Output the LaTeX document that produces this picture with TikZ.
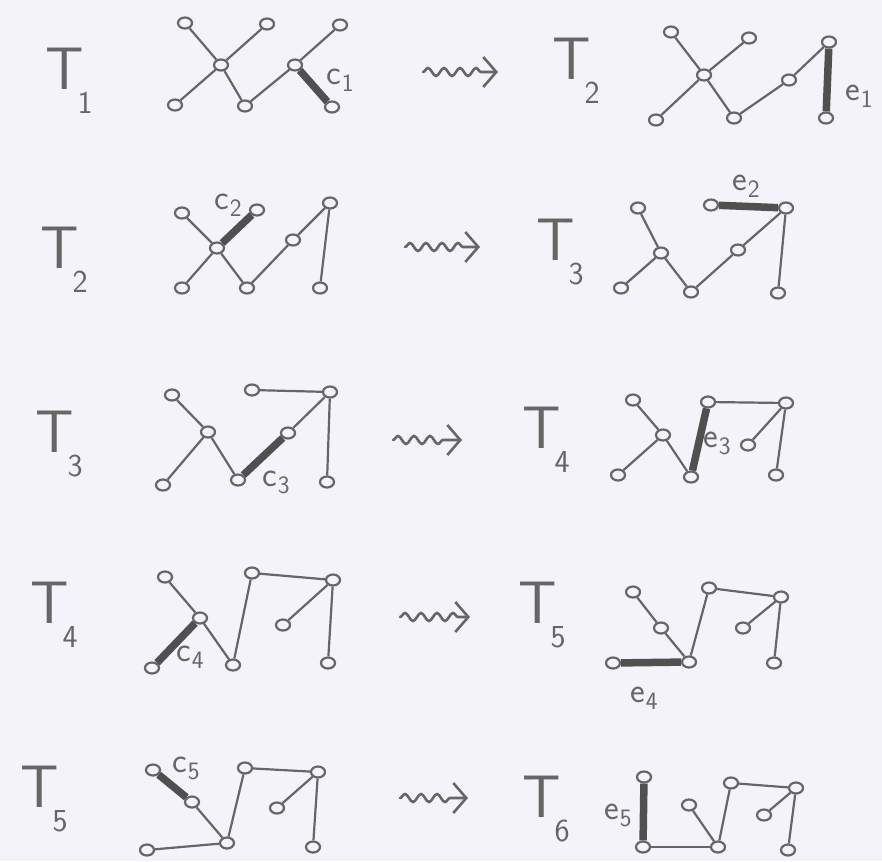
\documentclass[tikz,border=0pt]{standalone}
\usepackage{fontspec}
\usetikzlibrary{shapes.geometric,decorations.pathmorphing,arrows.meta}
\definecolor{paper}{HTML}{F3F3F9}
\definecolor{pencil}{HTML}{666666}
\definecolor{heavy}{HTML}{505050}
\newcommand\Tlab[1]{T\kern-6pt\raisebox{-24pt}{\fontsize{32}{32}\selectfont #1}}
\newcommand\elab[2]{#1\kern1pt\raisebox{-7pt}{\fontsize{25}{25}\selectfont #2}}
\tikzset{
  v/.style={ellipse,draw=pencil,fill=paper,line width=2.2pt,minimum width=14pt,minimum height=11pt,inner sep=0pt},
  ed/.style={draw=pencil,line width=2.2pt},
  hv/.style={draw=heavy,line width=7.5pt},
  tlab/.style={text=pencil,font=\sffamily\fontsize{60}{60}\selectfont,inner sep=0pt,anchor=base west},
  lbl/.style={text=pencil,font=\sffamily\fontsize{35}{35}\selectfont,inner sep=0pt,anchor=west},
  sq/.style={draw=pencil,line width=2.6pt,line cap=round,decorate,
    decoration={snake,amplitude=4pt,segment length=16pt,post length=12pt},
    -{Straight Barb[length=13pt,width=30pt,line width=2.6pt]}}
}
\begin{document}
\begin{tikzpicture}[x=1pt,y=-1pt]
\fill[paper] (0,0) rectangle (882,861);
\useasboundingbox (0,0) rectangle (882,861);
% ---------- labels T
\node[tlab] (tL1) at (45,90) {\Tlab{1}};
\node[tlab] (tR1) at (552,80) {\Tlab{2}};
\node[tlab] (tL2) at (40,268) {\Tlab{2}};
\node[tlab] (tR2) at (536,260) {\Tlab{3}};
\node[tlab] (tL3) at (35,452) {\Tlab{3}};
\node[tlab] (tR3) at (522,448) {\Tlab{4}};
\node[tlab] (tL4) at (30,623) {\Tlab{4}};
\node[tlab] (tR4) at (518,623) {\Tlab{5}};
\node[tlab] (tL5) at (20,807) {\Tlab{5}};
\node[tlab] (tR5) at (522,817) {\Tlab{6}};
% ---------- squiggle arrows
\foreach \r/\xa/\xb/\y in {1/423/498/72, 2/405/480/247, 3/393/462/440, 4/400/470/617, 5/400/468/798}{
  \coordinate (s\r a) at (\xa,\y);
  \coordinate (s\r b) at (\xb,\y);
  \draw[sq] (s\r a) -- (s\r b);
}
% ---------- row 1 left
\foreach \n/\x/\y in {a/185/23,b/267/24,c/221/65,d/175/105,e/245/106,f/295/65,g/340/25,h/332/107}
  \node[v] (L1\n) at (\x,\y) {};
\foreach \p/\q in {a/c,b/c,c/d,c/e,e/f,f/g} \draw[ed] (L1\p) -- (L1\q);
\draw[hv] (L1f) -- (L1h);
\node[lbl] (c1) at (326,80) {\elab{c}{1}};
% ---------- row 1 right
\foreach \n/\x/\y in {a/671/32,b/749/38,c/704/75,d/656/120,e/734/118,f/789/80,g/829/42,h/826/118}
  \node[v] (R1\n) at (\x,\y) {};
\foreach \p/\q in {a/c,b/c,c/d,c/e,e/f,f/g} \draw[ed] (R1\p) -- (R1\q);
\draw[hv] (R1g) -- (R1h);
\node[lbl] (e1) at (845,96) {\elab{e}{1}};
% ---------- row 2 left
\foreach \n/\x/\y in {a/182/213,b/257/210,c/217/248,d/182/288,e/247/288,f/293/240,g/330/203,h/320/288}
  \node[v] (L2\n) at (\x,\y) {};
\foreach \p/\q in {a/c,c/d,c/e,e/f,f/g,g/h} \draw[ed] (L2\p) -- (L2\q);
\draw[hv] (L2c) -- (L2b);
\node[lbl] (c2) at (214,205) {\elab{c}{2}};
% ---------- row 2 right
\foreach \n/\x/\y in {a/638/208,b/711/205,g/786/208,c/661/253,d/621/288,e/691/292,f/738/250,h/778/293}
  \node[v] (R2\n) at (\x,\y) {};
\foreach \p/\q in {a/c,c/d,c/e,e/f,f/g,g/h} \draw[ed] (R2\p) -- (R2\q);
\draw[hv] (R2b) -- (R2g);
\node[lbl] (e2) at (732,186) {\elab{e}{2}};
% ---------- row 3 left
\foreach \n/\x/\y in {a/172/395,b/252/390,g/330/392,c/208/432,d/163/485,e/238/480,f/288/433,h/327/482}
  \node[v] (L3\n) at (\x,\y) {};
\foreach \p/\q in {a/c,c/d,c/e,f/g,b/g,g/h} \draw[ed] (L3\p) -- (L3\q);
\draw[hv] (L3e) -- (L3f);
\node[lbl] (c3) at (262,482) {\elab{c}{3}};
% ---------- row 3 right
\foreach \n/\x/\y in {a/633/400,c/663/435,d/618/475,e/691/477,b/708/402,g/786/403,i/748/445,h/776/475}
  \node[v] (R3\n) at (\x,\y) {};
\foreach \p/\q in {a/c,c/d,c/e,b/g,g/i,g/h} \draw[ed] (R3\p) -- (R3\q);
\draw[hv] (R3e) -- (R3b);
\node[lbl] (e3) at (703,443) {\elab{e}{3}};
% ---------- row 4 left
\foreach \n/\x/\y in {a/165/577,c/200/618,d/152/668,e/233/665,b/252/573,g/333/580,i/283/625,h/328/663}
  \node[v] (L4\n) at (\x,\y) {};
\foreach \p/\q in {a/c,c/e,e/b,b/g,g/i,g/h} \draw[ed] (L4\p) -- (L4\q);
\draw[hv] (L4c) -- (L4d);
\node[lbl] (c4) at (176,657) {\elab{c}{4}};
% ---------- row 4 right
\foreach \n/\x/\y in {a/633/592,c/661/628,e/689/662,d/613/663,b/709/588,g/781/597,i/743/628,h/774/663}
  \node[v] (R4\n) at (\x,\y) {};
\foreach \p/\q in {a/c,c/e,e/b,b/g,g/i,g/h} \draw[ed] (R4\p) -- (R4\q);
\draw[hv] (R4d) -- (R4e);
\node[lbl] (e4) at (630,698) {\elab{e}{4}};
% ---------- row 5 left
\foreach \n/\x/\y in {a/153/770,c/192/802,e/227/843,d/147/850,b/245/768,g/318/772,i/277/808,h/313/847}
  \node[v] (L5\n) at (\x,\y) {};
\foreach \p/\q in {c/e,d/e,e/b,b/g,g/i,g/h} \draw[ed] (L5\p) -- (L5\q);
\draw[hv] (L5a) -- (L5c);
\node[lbl] (c5) at (172,768) {\elab{c}{5}};
% ---------- row 5 right
\foreach \n/\x/\y in {a/644/777,d/643/847,e/718/847,c/689/805,b/731/783,g/796/788,i/764/815,h/788/850}
  \node[v] (R5\n) at (\x,\y) {};
\foreach \p/\q in {d/e,c/e,e/b,b/g,g/i,g/h} \draw[ed] (R5\p) -- (R5\q);
\draw[hv] (R5a) -- (R5d);
\node[lbl] (e5) at (604,815) {\elab{e}{5}};
\end{tikzpicture}
\end{document}
